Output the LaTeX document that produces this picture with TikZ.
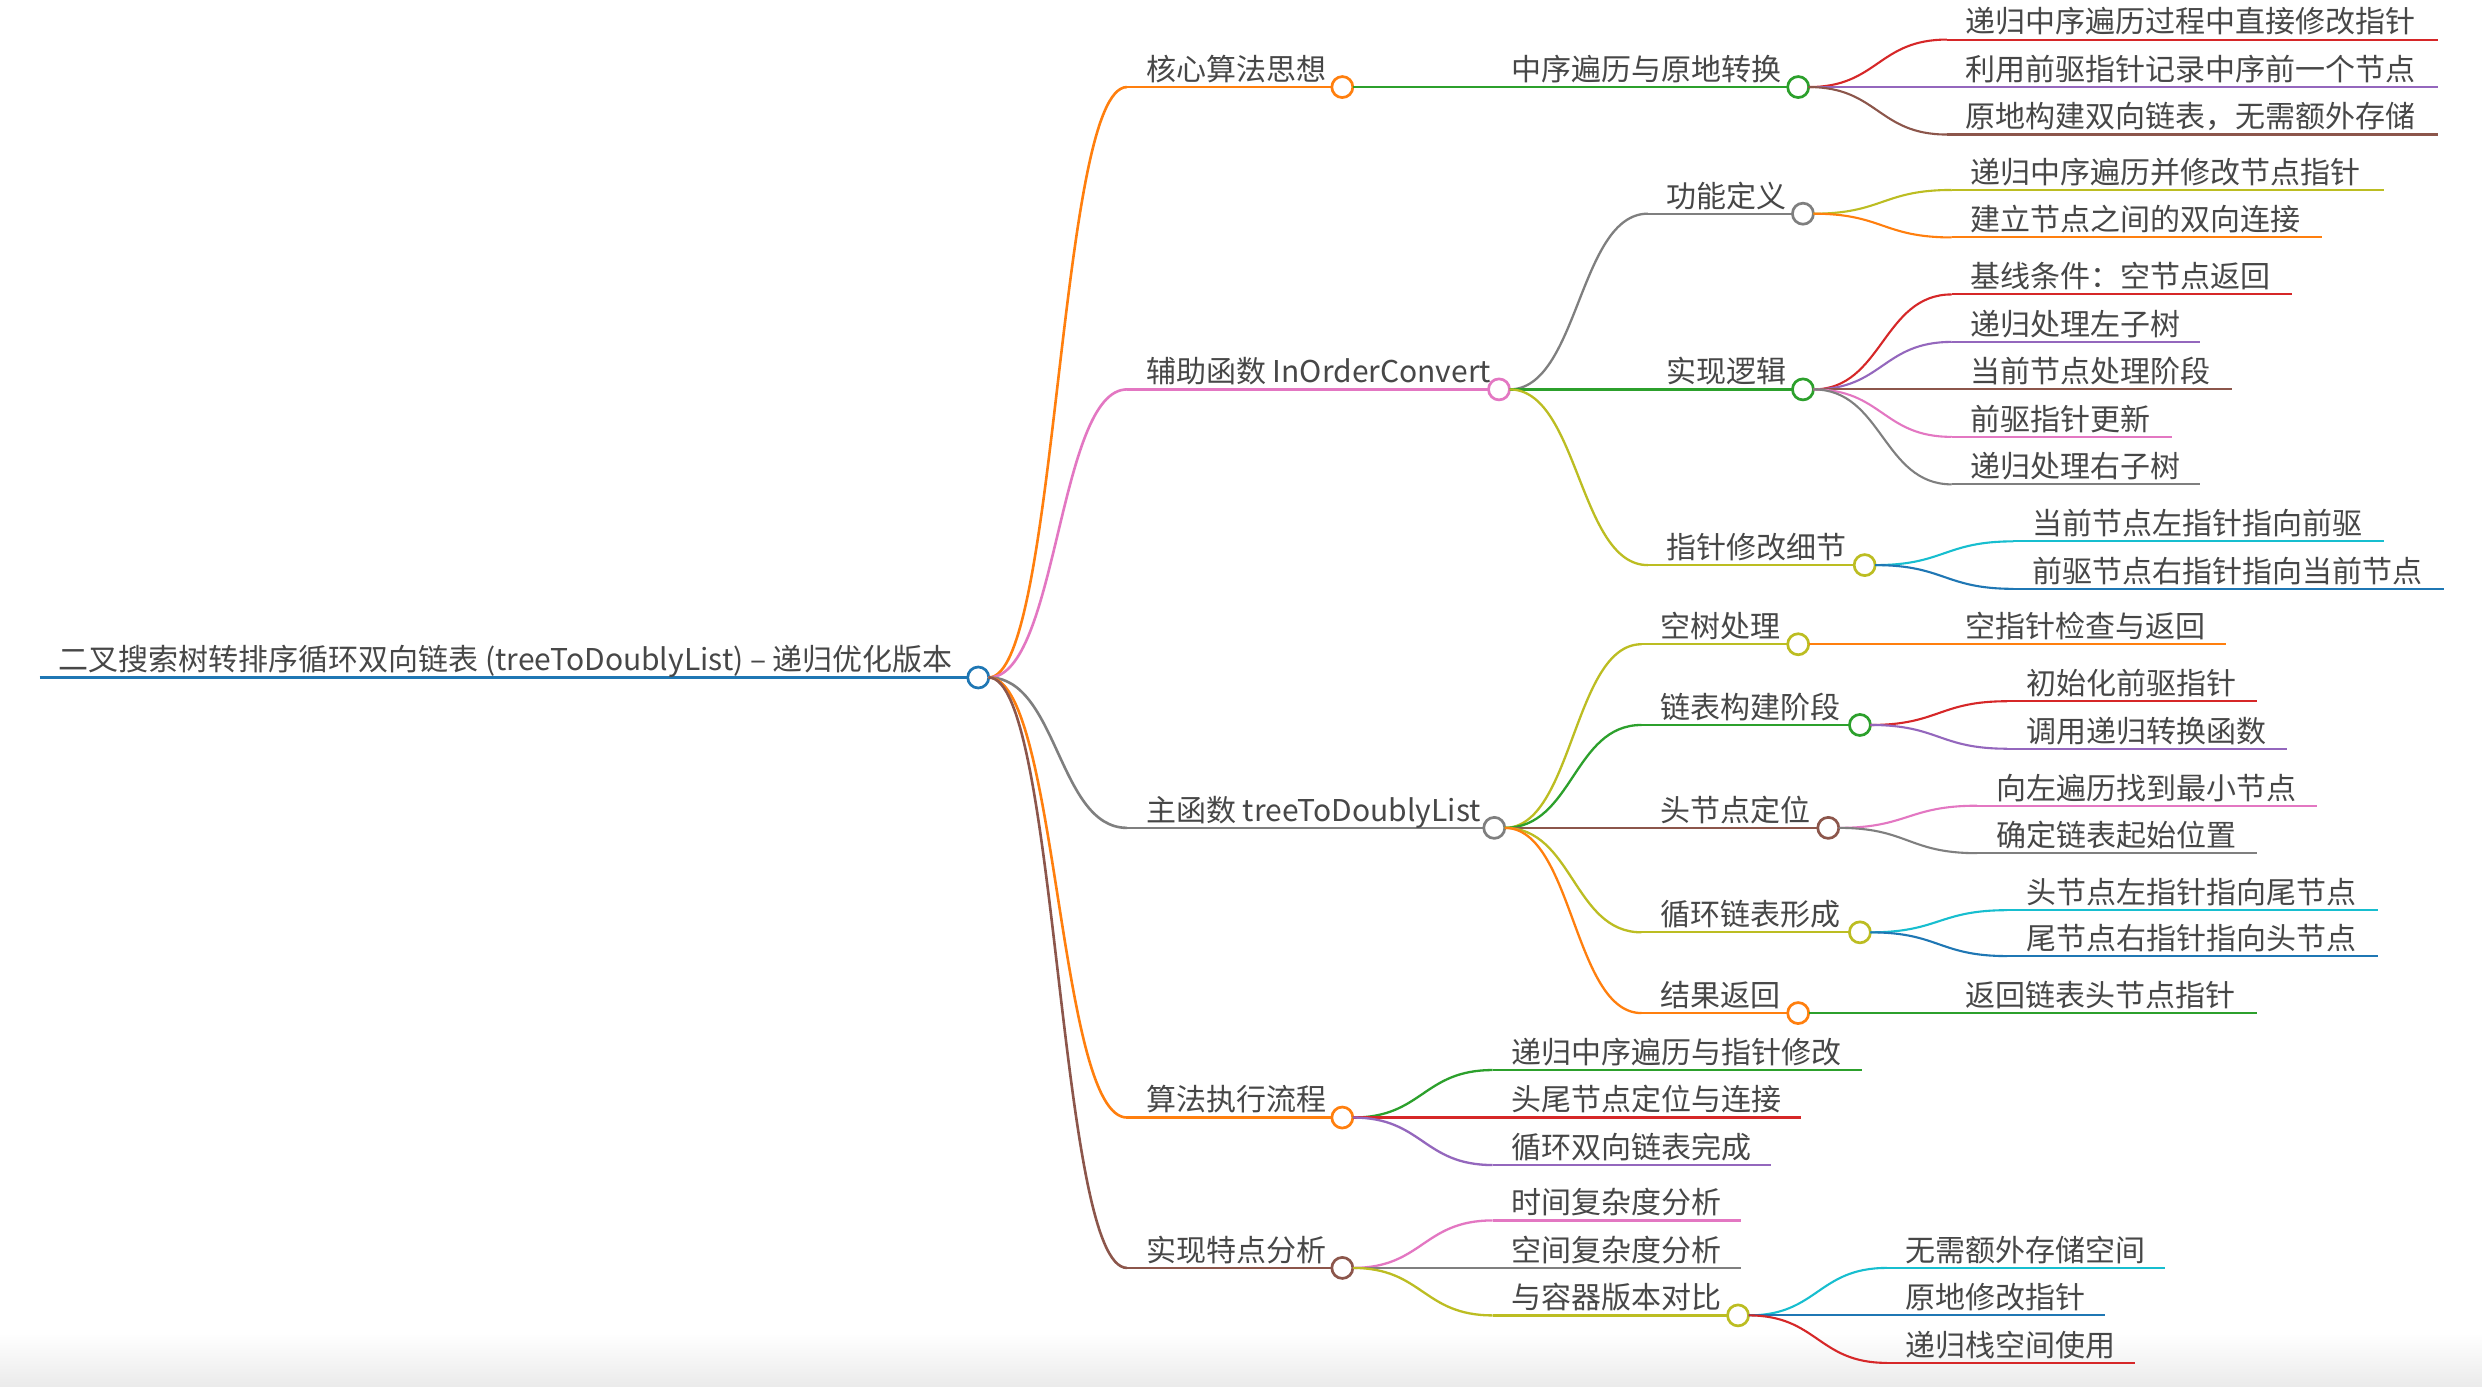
\documentclass[tikz,border=0pt]{standalone}
\usepackage{fontspec}
\setmainfont{Noto Sans CJK SC}
\usetikzlibrary{calc}
\definecolor{mmblue}{HTML}{1F77B4}
\definecolor{mmorange}{HTML}{FF7F0E}
\definecolor{mmgreen}{HTML}{2CA02C}
\definecolor{mmred}{HTML}{D62728}
\definecolor{mmpurple}{HTML}{9467BD}
\definecolor{mmbrown}{HTML}{8C564B}
\definecolor{mmpink}{HTML}{E377C2}
\definecolor{mmgray}{HTML}{7F7F7F}
\definecolor{mmolive}{HTML}{BCBD22}
\definecolor{mmcyan}{HTML}{17BECF}
\definecolor{mmtxt}{HTML}{474747}
\tikzset{
  mmtext/.style={inner sep=0pt, outer sep=0pt, text=mmtxt, font=\fontsize{30}{36}\selectfont},
  lwa/.style={line width=3.2pt},
  lwb/.style={line width=2.6pt},
  lwc/.style={line width=2.3pt},
  lwd/.style={line width=2.1pt},
  mmdot/.style={circle, fill=white, inner sep=0pt, outer sep=0pt, minimum size=21pt, line width=2.7pt}
}
% #1 name, #2 x start, #3 x end, #4 y, #5 colour, #6 width style, #7 text
\newcommand\mmitem[7]{%
  \coordinate (#1-s) at (#2,#4);
  \coordinate (#1-e) at (#3,#4);
  \draw[#5,#6] (#1-s) -- (#1-e);
  \node[mmtext,anchor=base west] (#1) at ($(#1-s)+(12,-4.2)$) {#7};
}
\newcommand\mmdotnode[2]{\node[mmdot,draw=#2] (#1-c) at (#1-e) {};}
% #1 parent, #2 child, #3 colour, #4 width style
\newcommand\mmlink[4]{%
  \coordinate (#2-m) at ($(#1-c.east)!0.5!(#2-s)$);
  \draw[#3,#4] (#1-c.east) .. controls (#1-c.east -| #2-m) and (#2-s -| #2-m) .. (#2-s);
}
% #1 parent, #2 name, #3 x0, #4 x1, #5 y, #6 colour, #7 width, #8 text
\newcommand\mmchild[8]{%
  \mmitem{#2}{#3}{#4}{#5}{#6}{#7}{#8}%
  \mmlink{#1}{#2}{#6}{#7}%
}
\begin{document}
\begin{tikzpicture}[x=1.583pt,y=-1.583pt]
\useasboundingbox (0,0) rectangle (1568,876);
\fill[white] (0,0) rectangle (1568,876);
\shade[top color=white, bottom color=black!8] (0,842) rectangle (1568,876);

% root
\mmitem{r}{25}{618}{428}{mmblue}{lwa}{二叉搜索树转排序循环双向链表 (treeToDoublyList) – 递归优化版本}
\mmdotnode{r}{mmblue}

% level 1
\mmchild{r}{a}{712}{848}{55}{mmorange}{lwb}{核心算法思想}
\mmdotnode{a}{mmorange}
\mmchild{r}{b}{712}{947}{246}{mmpink}{lwb}{辅助函数 InOrderConvert}
\mmdotnode{b}{mmpink}
\mmchild{r}{c}{712}{944}{523}{mmgray}{lwb}{主函数 treeToDoublyList}
\mmdotnode{c}{mmgray}
\mmchild{r}{d}{712}{848}{706}{mmorange}{lwb}{算法执行流程}
\mmdotnode{d}{mmorange}
\mmchild{r}{e}{712}{848}{801}{mmbrown}{lwb}{实现特点分析}
\mmdotnode{e}{mmbrown}

% A
\mmchild{a}{a1}{943}{1136}{55}{mmgreen}{lwc}{中序遍历与原地转换}
\mmdotnode{a1}{mmgreen}
\mmchild{a1}{a11}{1230}{1540}{25}{mmred}{lwd}{递归中序遍历过程中直接修改指针}
\mmchild{a1}{a12}{1230}{1540}{55}{mmpurple}{lwd}{利用前驱指针记录中序前一个节点}
\mmchild{a1}{a13}{1230}{1540}{85}{mmbrown}{lwd}{原地构建双向链表，无需额外存储}

% B
\mmchild{b}{b1}{1041}{1139}{135}{mmgray}{lwc}{功能定义}
\mmdotnode{b1}{mmgray}
\mmchild{b}{b2}{1041}{1139}{246}{mmgreen}{lwc}{实现逻辑}
\mmdotnode{b2}{mmgreen}
\mmchild{b}{b3}{1041}{1178}{357}{mmolive}{lwc}{指针修改细节}
\mmdotnode{b3}{mmolive}

\mmchild{b1}{b11}{1233}{1506}{120}{mmolive}{lwd}{递归中序遍历并修改节点指针}
\mmchild{b1}{b12}{1233}{1467}{150}{mmorange}{lwd}{建立节点之间的双向连接}

\mmchild{b2}{b21}{1233}{1448}{186}{mmred}{lwd}{基线条件：空节点返回}
\mmchild{b2}{b22}{1233}{1390}{216}{mmpurple}{lwd}{递归处理左子树}
\mmchild{b2}{b23}{1233}{1410}{246}{mmbrown}{lwd}{当前节点处理阶段}
\mmchild{b2}{b24}{1233}{1372}{276}{mmpink}{lwd}{前驱指针更新}
\mmchild{b2}{b25}{1233}{1390}{306}{mmgray}{lwd}{递归处理右子树}

\mmchild{b3}{b31}{1272}{1506}{342}{mmcyan}{lwd}{当前节点左指针指向前驱}
\mmchild{b3}{b32}{1272}{1544}{372}{mmblue}{lwd}{前驱节点右指针指向当前节点}

% C
\mmchild{c}{c1}{1037}{1136}{407}{mmolive}{lwc}{空树处理}
\mmdotnode{c1}{mmolive}
\mmchild{c}{c2}{1037}{1175}{458}{mmgreen}{lwc}{链表构建阶段}
\mmdotnode{c2}{mmgreen}
\mmchild{c}{c3}{1037}{1155}{523}{mmbrown}{lwc}{头节点定位}
\mmdotnode{c3}{mmbrown}
\mmchild{c}{c4}{1037}{1175}{589}{mmolive}{lwc}{循环链表形成}
\mmdotnode{c4}{mmolive}
\mmchild{c}{c5}{1037}{1136}{640}{mmorange}{lwc}{结果返回}
\mmdotnode{c5}{mmorange}

\mmchild{c1}{c11}{1230}{1406}{407}{mmorange}{lwd}{空指针检查与返回}
\mmchild{c2}{c21}{1268}{1426}{443}{mmred}{lwd}{初始化前驱指针}
\mmchild{c2}{c22}{1268}{1445}{473}{mmpurple}{lwd}{调用递归转换函数}
\mmchild{c3}{c31}{1249}{1464}{509}{mmpink}{lwd}{向左遍历找到最小节点}
\mmchild{c3}{c32}{1249}{1426}{539}{mmgray}{lwd}{确定链表起始位置}
\mmchild{c4}{c41}{1268}{1502}{575}{mmcyan}{lwd}{头节点左指针指向尾节点}
\mmchild{c4}{c42}{1268}{1502}{604}{mmblue}{lwd}{尾节点右指针指向头节点}
\mmchild{c5}{c51}{1230}{1426}{640}{mmgreen}{lwd}{返回链表头节点指针}

% D
\mmchild{d}{d1}{943}{1176}{676}{mmgreen}{lwc}{递归中序遍历与指针修改}
\mmchild{d}{d2}{943}{1138}{706}{mmred}{lwc}{头尾节点定位与连接}
\mmchild{d}{d3}{943}{1119}{736}{mmpurple}{lwc}{循环双向链表完成}

% E
\mmchild{e}{e1}{943}{1100}{771}{mmpink}{lwc}{时间复杂度分析}
\mmchild{e}{e2}{943}{1100}{801}{mmgray}{lwc}{空间复杂度分析}
\mmchild{e}{e3}{943}{1098}{831}{mmolive}{lwc}{与容器版本对比}
\mmdotnode{e3}{mmolive}

\mmchild{e3}{e31}{1192}{1368}{801}{mmcyan}{lwd}{无需额外存储空间}
\mmchild{e3}{e32}{1192}{1330}{831}{mmblue}{lwd}{原地修改指针}
\mmchild{e3}{e33}{1192}{1349}{861}{mmred}{lwd}{递归栈空间使用}
\end{tikzpicture}
\end{document}
